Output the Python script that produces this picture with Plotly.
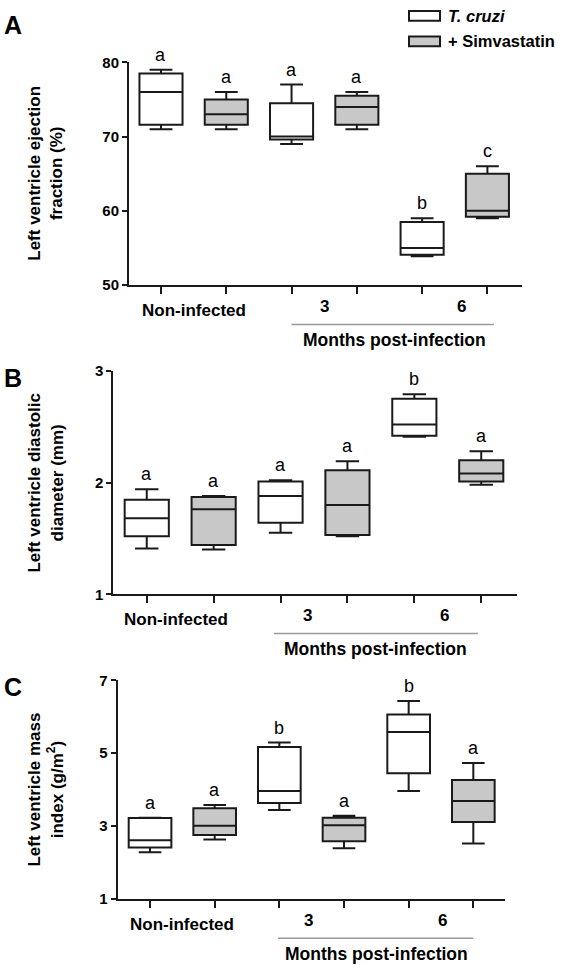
import plotly.graph_objects as go

W, H = 562, 971

# ---------------- data ----------------
tc_pos = [0, 2, 4]     # T. cruzi boxes: Non-infected, 3, 6 months
sim_pos = [1, 3, 5]    # + Simvastatin boxes

# Panel A: LV ejection fraction (%)
A_tc_min = [71.0, 69.0, 53.9]
A_tc_q1 = [71.6, 69.6, 54.1]
A_tc_med = [76.0, 70.0, 55.0]
A_tc_q3 = [78.5, 74.5, 58.5]
A_tc_max = [79.0, 77.0, 59.0]
A_sim_min = [71.0, 71.0, 59.0]
A_sim_q1 = [71.6, 71.6, 59.2]
A_sim_med = [73.0, 74.0, 60.0]
A_sim_q3 = [75.0, 75.5, 65.0]
A_sim_max = [76.0, 76.0, 66.0]
A_letters = ["a", "a", "a", "a", "b", "c"]   # order: positions 0..5

# Panel B: LV diastolic diameter (mm)
B_tc_min = [1.41, 1.55, 2.41]
B_tc_q1 = [1.52, 1.64, 2.42]
B_tc_med = [1.68, 1.88, 2.52]
B_tc_q3 = [1.845, 2.01, 2.75]
B_tc_max = [1.94, 2.02, 2.79]
B_sim_min = [1.40, 1.52, 1.98]
B_sim_q1 = [1.44, 1.53, 2.01]
B_sim_med = [1.76, 1.80, 2.08]
B_sim_q3 = [1.87, 2.11, 2.20]
B_sim_max = [1.88, 2.19, 2.28]
B_letters = ["a", "a", "a", "a", "b", "a"]

# Panel C: LV mass index (g/m2)
C_tc_min = [2.28, 3.44, 3.96]
C_tc_q1 = [2.41, 3.63, 4.45]
C_tc_med = [2.61, 3.96, 5.58]
C_tc_q3 = [3.22, 5.17, 6.06]
C_tc_max = [3.23, 5.29, 6.43]
C_sim_min = [2.63, 2.39, 2.52]
C_sim_q1 = [2.75, 2.58, 3.11]
C_sim_med = [3.01, 3.02, 3.69]
C_sim_q3 = [3.49, 3.23, 4.26]
C_sim_max = [3.58, 3.28, 4.73]
C_letters = ["a", "a", "b", "a", "b", "a"]

A_yticks = [50, 60, 70, 80]
B_yticks = [1, 2, 3]
C_yticks = [1, 3, 5, 7]

group_labels = ["Non-infected", "3", "6"]
legend_labels = ["T. cruzi", "+ Simvastatin"]
xlabel = "Months post-infection"

# ---------------- helpers ----------------
FONT = "Liberation Sans, Arial, sans-serif"
LINE = "#1a1a1a"
GRAY = "#c8c8c8"


def px(x):
    return x / W


def py(y):
    return 1 - y / H


panels = [
    dict(key="A", tc=(A_tc_min, A_tc_q1, A_tc_med, A_tc_q3, A_tc_max),
         sim=(A_sim_min, A_sim_q1, A_sim_med, A_sim_q3, A_sim_max),
         letters=A_letters, yticks=A_yticks, yrange=[50, 80],
         xpix=(129, 522), ypix=(54.3, 281), xrange=[-0.49, 5.53],
         title="Left ventricle ejection<br>fraction (%)",
         labx=[0.5, 2.5, 4.6], line=(2.0, 5.1), monthx=3.58),
    dict(key="B", tc=(B_tc_min, B_tc_q1, B_tc_med, B_tc_q3, B_tc_max),
         sim=(B_sim_min, B_sim_q1, B_sim_med, B_sim_q3, B_sim_max),
         letters=B_letters, yticks=B_yticks, yrange=[1, 3],
         xpix=(113.3, 516.7), ypix=(368.3, 595.7), xrange=[-0.5, 5.53],
         title="Left ventricle diastolic<br>diameter (mm)",
         labx=[0.44, 2.4, 4.45], line=(1.9, 4.95), monthx=3.42),
    dict(key="C", tc=(C_tc_min, C_tc_q1, C_tc_med, C_tc_q3, C_tc_max),
         sim=(C_sim_min, C_sim_q1, C_sim_med, C_sim_q3, C_sim_max),
         letters=C_letters, yticks=C_yticks, yrange=[1, 7],
         xpix=(117.7, 505), ypix=(683.3, 905.7), xrange=[-0.5, 5.49],
         title="Left ventricle mass<br>index (g/m<sup>2</sup>)",
         labx=[0.49, 2.45, 4.52], line=(1.98, 5.0), monthx=3.51),
]

fig = go.Figure()
annotations = []
shapes = []
layout = {}

for i, p in enumerate(panels):
    n = "" if i == 0 else str(i + 1)
    xa, ya = "x" + n, "y" + n
    for pos, stats, fill, name in [(tc_pos, p["tc"], "white", legend_labels[0]),
                                   (sim_pos, p["sim"], GRAY, legend_labels[1])]:
        mn, q1, med, q3, mx = stats
        fig.add_trace(go.Box(
            x=pos, q1=q1, median=med, q3=q3, lowerfence=mn, upperfence=mx,
            xaxis=xa, yaxis=ya, fillcolor=fill, name=name,
            line=dict(color=LINE, width=2), width=0.66, whiskerwidth=0.53,
            boxpoints=False, showlegend=False, hoverinfo="skip"))
    # significance letters
    tops = []
    for k in range(3):
        tops.append((tc_pos[k], p["tc"][4][k]))
        tops.append((sim_pos[k], p["sim"][4][k]))
    tops.sort()
    for (xpos, top), letter in zip(tops, p["letters"]):
        annotations.append(dict(x=xpos, y=top, xref=xa, yref=ya, text=letter,
                                showarrow=False, yanchor="bottom", yshift=3,
                                font=dict(family=FONT, size=18, color="#000000")))
    x0, x1 = p["xpix"]
    y0, y1 = p["ypix"]
    layout["xaxis" + n] = dict(
        domain=[px(x0), px(x1)], anchor=ya, range=p["xrange"],
        tickvals=[0, 1, 2, 3, 4, 5], showticklabels=False, ticks="outside",
        ticklen=7, tickwidth=2, tickcolor=LINE, showline=True, linewidth=2,
        linecolor=LINE, showgrid=False, zeroline=False, fixedrange=True)
    layout["yaxis" + n] = dict(
        domain=[py(y1), py(y0)], anchor=xa, range=p["yrange"],
        tickvals=p["yticks"], ticks="outside", ticklen=5, tickwidth=2,
        tickcolor=LINE, showline=True, linewidth=2, linecolor=LINE,
        showgrid=False, zeroline=False,
        tickfont=dict(family=FONT, size=15, color="black", weight="bold"))
    # group labels under x axis
    for lx, lab in zip(p["labx"], group_labels):
        dy = 26 if lab == "Non-infected" else 22
        annotations.append(dict(x=lx, y=py(y1 + dy), xref=xa, yref="paper",
                                text="<b>" + lab + "</b>", showarrow=False,
                                yanchor="middle",
                                font=dict(family=FONT, size=17, color="black")))
    # gray bracket line + months label
    shapes.append(dict(type="line", xref=xa, yref="paper", x0=p["line"][0],
                       x1=p["line"][1], y0=py(y1 + 40), y1=py(y1 + 40),
                       line=dict(color="#9a9a9a", width=1.5)))
    annotations.append(dict(x=p["monthx"], y=py(y1 + 56), xref=xa, yref="paper",
                            text="<b>" + xlabel + "</b>", showarrow=False,
                            yanchor="middle",
                            font=dict(family=FONT, size=17.5, color="black")))
    # y title
    annotations.append(dict(x=px(46), y=py((y0 + y1) / 2), xref="paper",
                            yref="paper", text="<b>" + p["title"] + "</b>",
                            textangle=-90, showarrow=False, xanchor="center",
                            yanchor="middle",
                            font=dict(family=FONT, size=17, color="black")))
    # panel letter
    annotations.append(dict(x=px(2), y=py(y0 - 38 if i == 0 else y0 + 7),
                            xref="paper", yref="paper", text="<b>" + p["key"] + "</b>",
                            showarrow=False, xanchor="left", yanchor="middle",
                            font=dict(family=FONT, size=25, color="black")))

# legend (drawn manually)
for (top, bot), fill, txt in [((2, 12), "white", "<b><i>" + legend_labels[0] + "</i></b>"),
                              ((28, 38), GRAY, "<b>" + legend_labels[1] + "</b>")]:
    shapes.append(dict(type="rect", xref="paper", yref="paper", x0=px(409), x1=px(440),
                       y0=py(bot), y1=py(top), fillcolor=fill,
                       line=dict(color=LINE, width=2)))
    annotations.append(dict(x=px(446), y=py((top + bot) / 2), xref="paper", yref="paper",
                            text=txt, showarrow=False, xanchor="left", yanchor="middle",
                            font=dict(family=FONT, size=16.5, color="black")))

fig.update_layout(
    width=W, height=H, margin=dict(l=0, r=0, t=0, b=0),
    paper_bgcolor="white", plot_bgcolor="white",
    annotations=annotations, shapes=shapes, showlegend=False,
    **layout)

fig.write_html(
    "out.html",
    config={"displayModeBar": False, "staticPlot": True},
    post_script="document.body.style.margin='0';document.body.style.padding='0';"
                "document.body.style.overflow='hidden';")
